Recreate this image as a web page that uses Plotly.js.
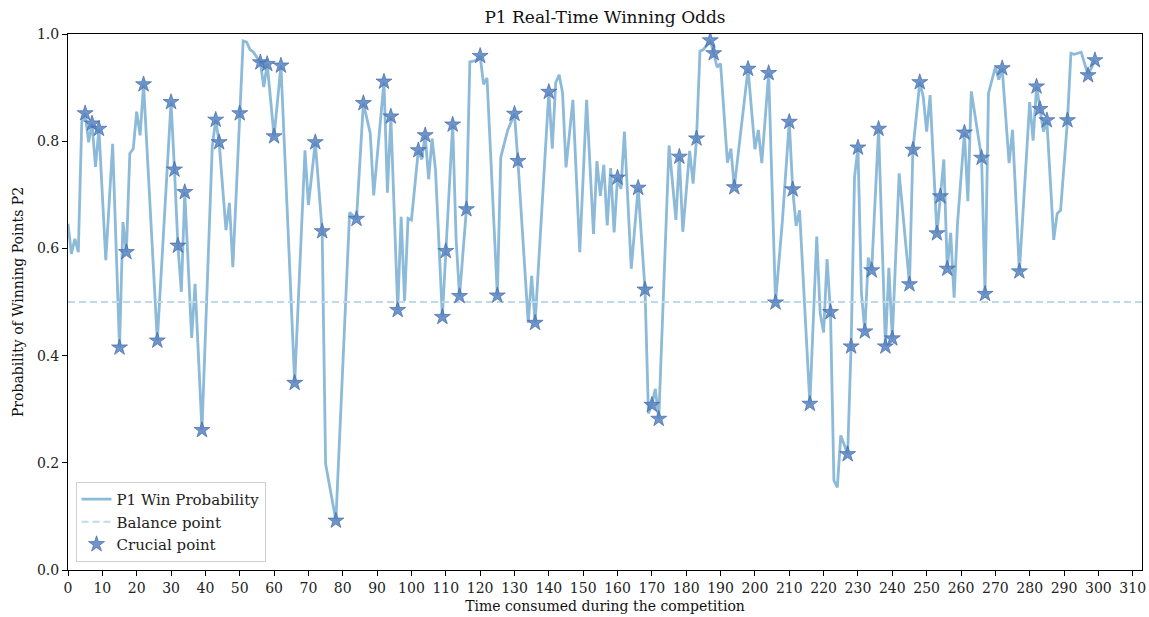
<!DOCTYPE html>
<html>
<head>
<meta charset="utf-8">
<script src="https://cdn.plot.ly/plotly-3.0.1.min.js"></script>
<style>
  html, body { margin: 0; padding: 0; background: #fff; }
  #chart { width: 1149px; height: 617px; }
</style>
</head>
<body>
<div id="chart"></div>
<script>
// Point index (time consumed) for each sampled value of P1's win probability
const timeSteps = [
  0, 1, 2, 3, 4, 5, 6, 7, 8, 9, 11, 13, 15, 16, 17, 18, 19, 20, 21, 22,
  26, 30, 31, 32, 33, 34, 36, 37, 39, 42, 43, 44, 46, 47, 48, 50, 51, 52, 53, 54,
  56, 57, 58, 60, 62, 66, 69, 70, 72, 74, 75, 78, 82, 84, 86, 88, 89, 92, 93, 94,
  96, 97, 98, 99, 100, 102, 103, 104, 105, 106, 107, 109, 110, 112, 113, 114, 116, 117, 119, 120,
  121, 122, 125, 126, 128, 130, 131, 134, 135, 136, 140, 141, 142, 143, 144, 145, 147, 149, 151, 153,
  154, 155, 156, 157, 158, 159, 160, 161, 162, 164, 166, 168, 169, 170, 171, 172, 175, 177, 178, 179,
  181, 182, 183, 184, 185, 187, 188, 189, 190, 192, 193, 194, 198, 200, 201, 202, 204, 206, 208, 210,
  211, 212, 213, 216, 218, 219, 220, 221, 222, 223, 224, 225, 227, 228, 229, 230, 231, 232, 233, 234,
  236, 238, 239, 240, 242, 245, 246, 248, 249, 250, 251, 253, 254, 255, 256, 257, 258, 259, 261, 262,
  263, 266, 267, 268, 270, 271, 272, 274, 275, 277, 279, 280, 281, 282, 283, 284, 285, 287, 288, 289,
  291, 292, 293, 295, 297, 299
];

// P1 win probability at each of those points
const winProb = [
  0.646, 0.590, 0.618, 0.593, 0.835, 0.852, 0.798, 0.833, 0.752, 0.823, 0.578, 0.795, 0.415, 0.649, 0.593, 0.777, 0.786, 0.855, 0.811, 0.906,
  0.428, 0.873, 0.747, 0.605, 0.519, 0.705, 0.433, 0.534, 0.261, 0.790, 0.840, 0.798, 0.634, 0.685, 0.565, 0.852, 0.987, 0.985, 0.971, 0.966,
  0.947, 0.901, 0.944, 0.809, 0.941, 0.349, 0.783, 0.681, 0.798, 0.632, 0.198, 0.092, 0.667, 0.655, 0.871, 0.815, 0.699, 0.911, 0.704, 0.846,
  0.485, 0.659, 0.502, 0.656, 0.653, 0.783, 0.766, 0.811, 0.729, 0.805, 0.747, 0.472, 0.595, 0.831, 0.617, 0.511, 0.673, 0.948, 0.951, 0.959,
  0.906, 0.918, 0.512, 0.770, 0.820, 0.851, 0.763, 0.461, 0.549, 0.461, 0.892, 0.786, 0.909, 0.924, 0.890, 0.751, 0.877, 0.593, 0.877, 0.627,
  0.763, 0.698, 0.756, 0.643, 0.750, 0.630, 0.732, 0.711, 0.818, 0.562, 0.713, 0.523, 0.292, 0.308, 0.338, 0.282, 0.792, 0.653, 0.771, 0.631,
  0.782, 0.721, 0.805, 0.968, 0.971, 0.988, 0.964, 0.938, 0.945, 0.760, 0.786, 0.714, 0.935, 0.785, 0.821, 0.759, 0.927, 0.499, 0.652, 0.836,
  0.710, 0.642, 0.671, 0.310, 0.622, 0.479, 0.443, 0.580, 0.481, 0.167, 0.154, 0.251, 0.216, 0.417, 0.733, 0.788, 0.518, 0.445, 0.583, 0.559,
  0.823, 0.417, 0.564, 0.432, 0.740, 0.533, 0.784, 0.910, 0.883, 0.818, 0.886, 0.628, 0.697, 0.766, 0.562, 0.629, 0.508, 0.648, 0.816, 0.688,
  0.893, 0.769, 0.515, 0.889, 0.938, 0.915, 0.936, 0.759, 0.821, 0.557, 0.766, 0.873, 0.801, 0.902, 0.860, 0.818, 0.839, 0.616, 0.665, 0.671,
  0.839, 0.964, 0.962, 0.966, 0.923, 0.951
];

// Points flagged as crucial moments of the match
const crucialTimes = [
  5, 7, 9, 15, 17, 22, 26, 30, 31, 32, 34, 39, 43, 44, 50, 56, 58, 60, 62, 66,
  72, 74, 78, 84, 86, 92, 94, 96, 102, 104, 109, 110, 112, 114, 116, 120, 125, 130, 131, 136,
  140, 160, 166, 168, 170, 172, 178, 183, 187, 188, 194, 198, 204, 206, 210, 211, 216, 222, 227, 228,
  230, 232, 234, 236, 238, 240, 245, 246, 248, 253, 254, 256, 261, 266, 267, 272, 277, 282, 283, 285,
  291, 297, 299
];
const crucialProb = crucialTimes.map(t => winProb[timeSteps.indexOf(t)]);

// Balance level where both players are equally likely to win the point
const balanceLevel = 0.5;

const xRange = [0, 312.7];
const xTickVals = [];
for (let v = 0; v <= 310; v += 10) xTickVals.push(v);
const yTickVals = [0, 0.2, 0.4, 0.6, 0.8, 1.0];

const FONT = 'DejaVu Serif, Liberation Serif, serif';

const traces = [
  {
    x: timeSteps, y: winProb,
    type: 'scatter', mode: 'lines',
    name: 'P1 Win Probability',
    line: { color: 'rgb(140,186,216)', width: 2.8 },
    hoverinfo: 'x+y'
  },
  {
    x: xRange, y: [balanceLevel, balanceLevel],
    type: 'scatter', mode: 'lines',
    name: 'Balance point',
    line: { color: 'rgb(190,218,232)', width: 2, dash: '7px,4px' },
    hoverinfo: 'skip'
  },
  {
    x: crucialTimes, y: crucialProb,
    type: 'scatter', mode: 'markers',
    name: 'Crucial point',
    marker: {
      symbol: 'star', size: 12,
      color: 'rgba(86,130,192,0.85)',
      line: { color: 'rgb(66,106,170)', width: 0.7 }
    }
  }
];

const axisCommon = {
  showline: true, linecolor: '#000', linewidth: 1, mirror: true,
  ticks: 'outside', ticklen: 5, tickwidth: 1, tickcolor: '#000',
  showgrid: false, zeroline: false,
  tickfont: { family: FONT, size: 14, color: '#222' }
};

const layout = {
  width: 1149, height: 617,
  margin: { l: 68, r: 7, t: 34, b: 47 },
  paper_bgcolor: '#fff', plot_bgcolor: '#fff',
  showlegend: true,
  title: {
    text: 'P1 Real-Time Winning Odds',
    font: { family: FONT, size: 17, color: '#111' },
    x: 0.5, xref: 'paper', y: 0.973, yref: 'container', yanchor: 'middle'
  },
  xaxis: Object.assign({}, axisCommon, {
    range: xRange,
    tickmode: 'array', tickvals: xTickVals,
    ticktext: xTickVals.map(String),
    title: { text: 'Time consumed during the competition', font: { family: FONT, size: 14, color: '#111' }, standoff: 6 }
  }),
  yaxis: Object.assign({}, axisCommon, {
    range: [0, 1],
    tickmode: 'array', tickvals: yTickVals,
    ticktext: yTickVals.map(v => v.toFixed(1)),
    title: { text: 'Probability of Winning Points P2', font: { family: FONT, size: 14, color: '#111' }, standoff: 10 }
  }),
  legend: {
    x: 0.007, y: 0.015, xanchor: 'left', yanchor: 'bottom',
    bgcolor: 'rgba(255,255,255,0.85)',
    bordercolor: '#d0d0d0', borderwidth: 1,
    font: { family: FONT, size: 15, color: '#222' },
    tracegroupgap: 0
  }
};

Plotly.newPlot('chart', traces, layout, { displayModeBar: false, staticPlot: true });
</script>
</body>
</html>
